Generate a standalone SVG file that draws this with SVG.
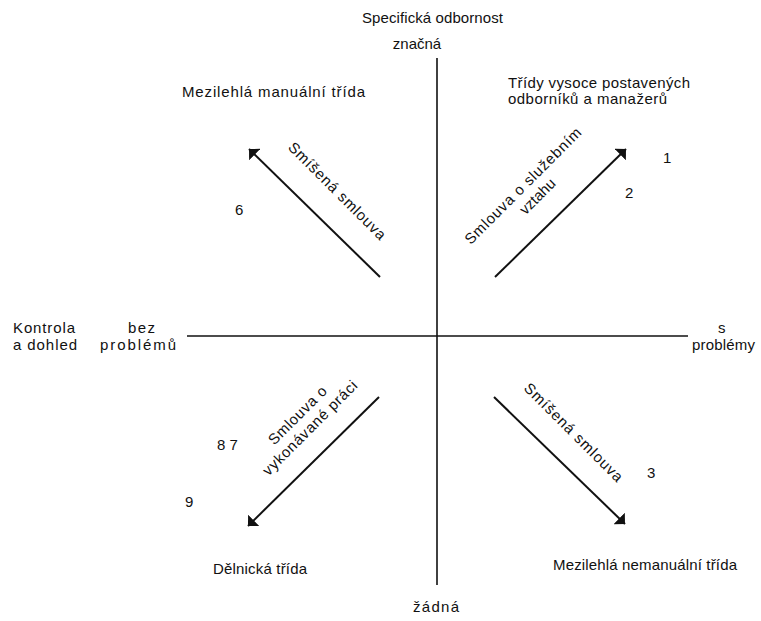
<svg xmlns="http://www.w3.org/2000/svg" width="761" height="621" viewBox="0 0 761 621">
<style>
  text { font-family: "Liberation Sans", Arial, sans-serif; font-size: 15px; fill: #111; }
  .axis { stroke: #111; stroke-width: 1.6; fill: none; }
  .arr { stroke: #111; stroke-width: 2; fill: none; marker-end: url(#ah); }
</style>
<defs>
  <marker id="ah" viewBox="0 0 8 16" refX="8" refY="8" markerWidth="8" markerHeight="16" markerUnits="userSpaceOnUse" orient="auto">
    <path d="M0,0 L8,8 L0,16 z" fill="#111"/>
  </marker>
</defs>
<rect width="761" height="621" fill="#fff"/>
<g id="connectors">
  <line class="axis" x1="437" y1="58" x2="437" y2="585"/>
  <line class="axis" x1="187" y1="336" x2="688" y2="336"/>
  <line class="arr" x1="380" y1="277" x2="249" y2="149"/>
  <line class="arr" x1="495" y1="277" x2="626" y2="149"/>
  <line class="arr" x1="379" y1="397" x2="248" y2="526"/>
  <line class="arr" x1="494" y1="397" x2="625" y2="524"/>
</g>
<g id="axis-top">
  <text x="362" y="23" textLength="141" lengthAdjust="spacing">Specifická odbornost</text>
  <text x="417" y="49" text-anchor="middle">značná</text>
</g>
<g id="axis-bottom">
  <text x="413" y="612" textLength="46" lengthAdjust="spacing">žádná</text>
</g>
<g id="axis-left">
  <text x="13" y="333" textLength="62" lengthAdjust="spacing">Kontrola</text>
  <text x="13" y="350" textLength="64" lengthAdjust="spacing">a dohled</text>
  <text x="128" y="333" textLength="27" lengthAdjust="spacing">bez</text>
  <text x="100" y="350" textLength="76" lengthAdjust="spacing">problémů</text>
</g>
<g id="axis-right">
  <text x="718" y="333">s</text>
  <text x="692" y="350" textLength="63" lengthAdjust="spacing">problémy</text>
</g>
<g id="class-top-left">
  <text x="182" y="97" textLength="183" lengthAdjust="spacing">Mezilehlá manuální třída</text>
  <text x="235" y="215">6</text>
</g>
<g id="class-top-right">
  <text x="508" y="88" textLength="182" lengthAdjust="spacing">Třídy vysoce postavených</text>
  <text x="508" y="104" textLength="159" lengthAdjust="spacing">odborníků a manažerů</text>
  <text x="663" y="163">1</text>
  <text x="625" y="198">2</text>
</g>
<g id="class-bottom-left">
  <text x="213" y="574" textLength="94" lengthAdjust="spacing">Dělnická třída</text>
  <text x="217" y="450">8 7</text>
  <text x="185" y="507">9</text>
</g>
<g id="class-bottom-right">
  <text x="553" y="570" textLength="184" lengthAdjust="spacing">Mezilehlá nemanuální třída</text>
  <text x="647" y="478">3</text>
</g>
<g id="contract-top-left">
  <text text-anchor="middle" transform="translate(333.5,194.5) rotate(45)" textLength="131" lengthAdjust="spacing">Smíšená smlouva</text>
</g>
<g id="contract-top-right">
  <text text-anchor="middle" transform="translate(526.5,189.5) rotate(-45)" textLength="158" lengthAdjust="spacing">Smlouva o služebním</text>
  <text text-anchor="middle" transform="translate(541,200) rotate(-45)" textLength="44" lengthAdjust="spacing">vztahu</text>
</g>
<g id="contract-bottom-left">
  <text text-anchor="middle" transform="translate(301,419) rotate(-45)" textLength="76" lengthAdjust="spacing">Smlouva o</text>
  <text text-anchor="middle" transform="translate(313.5,431.5) rotate(-45)" textLength="127" lengthAdjust="spacing">vykonávané práci</text>
</g>
<g id="contract-bottom-right">
  <text text-anchor="middle" transform="translate(570,436) rotate(45)" textLength="133" lengthAdjust="spacing">Smíšená smlouva</text>
</g>
</svg>
